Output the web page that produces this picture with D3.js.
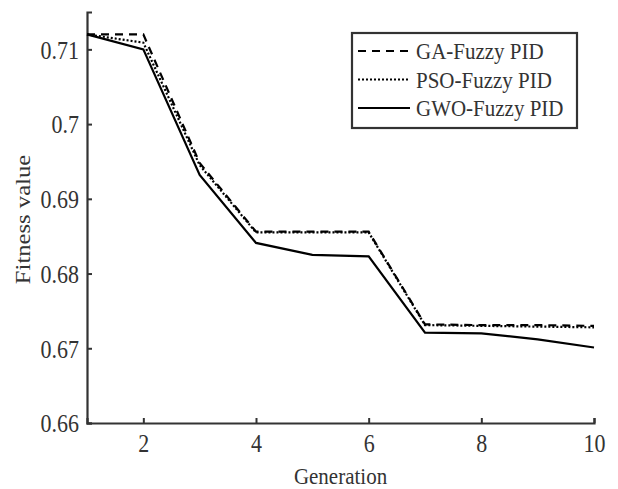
<!DOCTYPE html>
<html lang="en">
<head>
    <meta charset="utf-8">
    <script src="https://d3js.org/d3.v7.min.js"></script>
    <style>
        body { margin: 0; background: #fff; }
        svg text { font-family: "Liberation Serif", "Times New Roman", Times, serif; fill: #333; }
    </style>
</head>
<body>
    <svg id="chart"></svg>

    <script type="text/javascript" charset="utf-8">
        // values
        const generations = [1, 2, 3, 4, 5, 6, 7, 8, 9, 10];
        const gaFitness  = [0.7120, 0.7120, 0.6948, 0.6856, 0.6856, 0.6856, 0.6732, 0.6731, 0.6731, 0.6730];
        const psoFitness = [0.7120, 0.7109, 0.6945, 0.6855, 0.6855, 0.6855, 0.6731, 0.6730, 0.6729, 0.6728];
        const gwoFitness = [0.7120, 0.7100, 0.6932, 0.6841, 0.6825, 0.6823, 0.6721, 0.6720, 0.6712, 0.6701];
        const seriesNames = ["GA-Fuzzy PID", "PSO-Fuzzy PID", "GWO-Fuzzy PID"];
        const xTicks = [2, 4, 6, 8, 10];
        const yTicks = [0.66, 0.67, 0.68, 0.69, 0.70, 0.71];

        const series = [
            { name: seriesNames[0], values: gaFitness, dash: "8,6" },
            { name: seriesNames[1], values: psoFitness, dash: "2,2" },
            { name: seriesNames[2], values: gwoFitness, dash: null }
        ];

        const FONT = "'Liberation Serif', 'Times New Roman', Times, serif";
        const SY = 1.12; // the original figure's text is a bit taller than plain Times
        const W = 618, H = 489;
        const margin = { top: 12, right: 24, bottom: 66, left: 87 };
        const width = W - margin.left - margin.right;
        const height = H - margin.top - margin.bottom;

        const svg = d3.select("#chart")
            .attr("width", W)
            .attr("height", H)
            .append("g")
            .attr("transform", `translate(${margin.left},${margin.top})`);

        const x = d3.scaleLinear().domain([1, 10]).range([0, width]);
        const y = d3.scaleLinear().domain([0.66, 0.715]).range([height, 0]);

        // axes (ticks point inward, like MATLAB)
        const xAxis = svg.append("g")
            .attr("transform", `translate(0,${height})`)
            .call(d3.axisBottom(x).tickValues(xTicks).tickSize(-5).tickPadding(12).tickFormat(d3.format("d")));
        const yAxis = svg.append("g")
            .call(d3.axisLeft(y).tickValues(yTicks).tickSize(-5).tickPadding(8).tickFormat(d => +d.toFixed(2) + ""));

        [xAxis, yAxis].forEach(a => {
            a.attr("font-family", FONT).attr("font-size", 22);
            a.select(".domain").attr("stroke", "#333").attr("stroke-width", 2.2);
            a.selectAll(".tick line").attr("stroke", "#333").attr("stroke-width", 2);
            a.selectAll(".tick text").attr("fill", "#333").attr("transform", `scale(1,${SY})`);
        });
        xAxis.selectAll(".tick text").attr("y", 12 / SY);
        yAxis.selectAll(".tick text").attr("dy", "0.36em");

        // axis titles
        svg.append("text")
            .attr("transform", `translate(${width / 2},${height + 61}) scale(1,${SY})`)
            .attr("text-anchor", "middle")
            .style("font-size", "21px")
            .text("Generation");

        svg.append("text")
            .attr("transform", `translate(${-57},${height / 2 + 2}) rotate(-90) scale(${SY},1)`)
            .attr("text-anchor", "middle")
            .style("font-size", "22px")
            .text("Fitness value");

        const line = d3.line()
            .x((d, i) => x(generations[i]))
            .y(d => y(d));

        svg.selectAll(".series")
            .data(series)
            .enter().append("path")
            .attr("class", "series")
            .attr("d", d => line(d.values))
            .attr("fill", "none")
            .attr("stroke", "#000")
            .attr("stroke-width", 2.2)
            .attr("stroke-dasharray", d => d.dash);

        // legend
        const legend = svg.append("g").attr("transform", `translate(${352 - margin.left},${33 - margin.top})`);
        legend.append("rect")
            .attr("width", 225)
            .attr("height", 95)
            .attr("fill", "#fff")
            .attr("stroke", "#333")
            .attr("stroke-width", 2.2);

        const item = legend.selectAll(".item")
            .data(series)
            .enter().append("g")
            .attr("class", "item")
            .attr("transform", (d, i) => `translate(0,${18 + i * 28.5})`);

        item.append("line")
            .attr("x1", 6).attr("x2", 58)
            .attr("y1", 0).attr("y2", 0)
            .attr("stroke", "#000")
            .attr("stroke-width", 2.2)
            .attr("stroke-dasharray", d => d.dash);

        item.append("text")
            .attr("transform", `translate(64,8) scale(1,${SY})`)
            .style("font-size", "21px")
            .text(d => d.name);
    </script>
</body>
</html>
